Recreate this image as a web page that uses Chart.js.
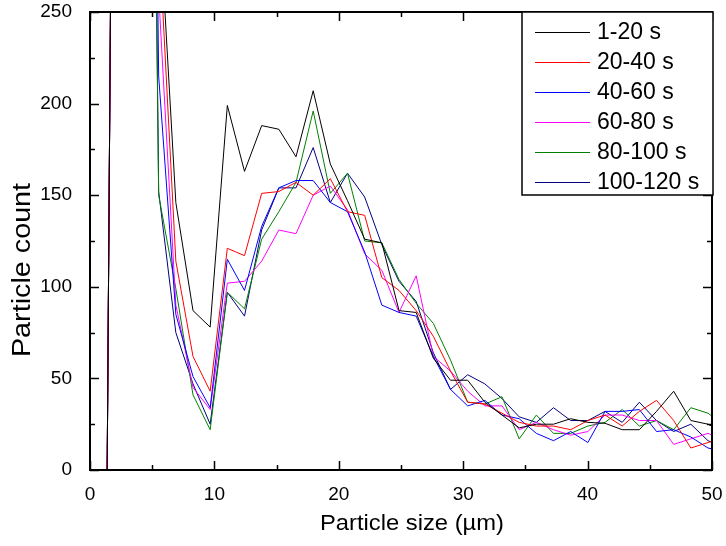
<!DOCTYPE html>
<html>
<head>
<meta charset="utf-8">
<title>Particle count</title>
<script src="https://cdn.jsdelivr.net/npm/chart.js@4.4.1/dist/chart.umd.min.js"></script>
<style>
    body {
        margin: 0;
        background: white;
    }
    #chart {
        display: block;
    }
</style>
</head>
<body>
<canvas id="chart" width="726" height="546"></canvas>
<script>
const sizes = [1.38, 2.76, 4.14, 5.52, 6.9, 8.28, 9.66, 11.04, 12.42, 13.8, 15.18, 16.56, 17.94, 19.32, 20.7, 22.08, 23.46, 24.84, 26.22, 27.6, 28.98, 30.36, 31.74, 33.12, 34.5, 35.88, 37.26, 38.64, 40.02, 41.4, 42.78, 44.16, 45.54, 46.92, 48.3, 49.68, 51.06];

const labels = ['1-20 s', '20-40 s', '40-60 s', '60-80 s', '80-100 s', '100-120 s'];
const colors = ['#000000', '#ff0000', '#0000ff', '#ff00ff', '#008000', '#000080'];

const s1_20 = [0, 1300, 1000, 310, 146, 87, 78, 199, 163, 188, 186, 171, 207, 167, 147, 126, 124, 87, 86, 61, 49, 49, 37, 30, 23, 25, 25, 28, 26, 25.5, 22, 22, 32, 43, 27, 25, 20];
const s20_40 = [0, 1300, 1000, 294, 114, 62, 43, 121, 117, 151, 152, 157, 150, 159, 141, 139, 105, 98, 87, 73, 54, 37, 36, 31, 26, 24, 24, 22, 27, 30, 24, 32, 38, 27, 12, 15, 18];
const s40_60 = [0, 1300, 1000, 215, 85, 51, 34, 115, 98, 133, 154, 158, 158, 146, 141, 119, 90, 86, 84, 62, 44, 35, 38, 30, 28, 20, 16, 21, 15, 32, 32, 33, 21, 22, 18, 12, 10];
const s60_80 = [0, 1300, 1000, 260, 90, 45, 33, 102, 103, 114, 131, 129, 150, 155, 142, 118, 109, 86, 106, 62, 54, 43, 35, 35, 22, 26, 22, 19, 21, 30, 30, 27, 27, 14, 17, 20, 16];
const s80_100 = [0, 1300, 1000, 150, 99, 41, 22, 97, 88, 126, 141, 157, 196, 151, 162, 125, 124, 104, 91, 80, 60, 37, 36, 40, 17, 30, 20, 20, 24, 26, 33, 24, 27, 22, 34, 31, 24];
const s100_120 = [0, 1300, 1000, 152, 75, 47, 25, 97, 84, 131, 154, 154, 176, 146, 162, 149, 123, 103, 92, 64, 44, 52, 47, 39, 29, 26, 34, 27, 27, 32, 26, 37, 27, 21, 25, 16, 12];

const xTicks = [0, 10, 20, 30, 40, 50];
const yTicks = [0, 50, 100, 150, 200, 250];

const allSeries = [s1_20, s20_40, s40_60, s60_80, s80_100, s100_120];

function toPoints(values) {
    return values.map((v, i) => ({ x: sizes[i], y: v }));
}

const datasets = allSeries.map((values, i) => ({
    label: labels[i],
    data: toPoints(values),
    borderColor: colors[i],
    backgroundColor: colors[i],
    borderWidth: 1,
    pointRadius: 0,
    tension: 0
}));

const fontName = '"Liberation Sans", Arial, sans-serif';

// text stretched along its baseline, like the original export
function stretchedText(ctx, text, x, y, angle, sx) {
    ctx.save();
    ctx.translate(x, y);
    ctx.rotate(angle);
    ctx.scale(sx, 1);
    ctx.fillText(text, 0, 0);
    ctx.restore();
}

// frame, inward ticks, axis titles and boxed legend
const framePlugin = {
    id: 'frame',
    afterDraw(chart) {
        const ctx = chart.ctx;
        const area = chart.chartArea;
        const xs = chart.scales.x;
        const ys = chart.scales.y;
        ctx.save();
        ctx.strokeStyle = '#000';
        ctx.lineWidth = 1.5;
        for (let v = 0; v <= 50; v += 5) {
            const px = Math.round(xs.getPixelForValue(v)) + 0.5;
            const len = v % 10 === 0 ? 9 : 5;
            ctx.beginPath();
            ctx.moveTo(px, area.bottom);
            ctx.lineTo(px, area.bottom - len);
            ctx.moveTo(px, area.top);
            ctx.lineTo(px, area.top + len);
            ctx.stroke();
        }
        for (let v = 0; v <= 250; v += 25) {
            const py = Math.round(ys.getPixelForValue(v)) + 0.5;
            const len = v % 50 === 0 ? 9 : 5;
            ctx.beginPath();
            ctx.moveTo(area.left, py);
            ctx.lineTo(area.left + len, py);
            ctx.moveTo(area.right, py);
            ctx.lineTo(area.right - len, py);
            ctx.stroke();
        }
        ctx.lineWidth = 2;
        ctx.strokeRect(area.left, area.top, area.right - area.left, area.bottom - area.top);

        ctx.fillStyle = '#000';
        ctx.textAlign = 'center';
        ctx.textBaseline = 'middle';
        ctx.font = '22px ' + fontName;
        stretchedText(ctx, 'Particle size (\u00b5m)', (area.left + area.right) / 2 + 11, 524, 0, 1.08);
        ctx.font = '25px ' + fontName;
        stretchedText(ctx, 'Particle count', 23, 270, -Math.PI / 2, 1.15);

        const box = { left: 522, top: 12, right: 713, bottom: 195 };
        ctx.fillStyle = '#fff';
        ctx.fillRect(box.left, box.top, box.right - box.left, box.bottom - box.top);
        ctx.lineWidth = 1.5;
        ctx.strokeRect(box.left, box.top, box.right - box.left, box.bottom - box.top);
        ctx.textAlign = 'left';
        ctx.font = '23px ' + fontName;
        labels.forEach((label, i) => {
            const y = 32 + i * 30;
            ctx.strokeStyle = colors[i];
            ctx.lineWidth = 1;
            ctx.beginPath();
            ctx.moveTo(535, y + 0.5);
            ctx.lineTo(590, y + 0.5);
            ctx.stroke();
            ctx.fillStyle = '#000';
            ctx.fillText(label, 597, y + 1);
        });
        ctx.restore();
    }
};

new Chart(document.getElementById('chart'), {
    type: 'line',
    data: { datasets: datasets },
    options: {
        responsive: false,
        animation: false,
        devicePixelRatio: 1,
        layout: { padding: { top: 12, right: 14, left: 0, bottom: 0 } },
        plugins: {
            legend: { display: false },
            tooltip: { enabled: false }
        },
        scales: {
            x: {
                type: 'linear',
                min: 0,
                max: 50,
                afterFit: scale => {
                    scale.height = 76;
                    scale.paddingLeft = 0;
                    scale.paddingRight = 0;
                },
                afterBuildTicks: scale => { scale.ticks = xTicks.map(v => ({ value: v })); },
                grid: { display: false },
                border: { display: false },
                ticks: { color: '#000', padding: 5, maxRotation: 0, font: { size: 19, family: fontName } }
            },
            y: {
                type: 'linear',
                min: 0,
                max: 250,
                afterFit: scale => {
                    scale.width = 90;
                    scale.paddingTop = 0;
                    scale.paddingBottom = 0;
                },
                afterBuildTicks: scale => { scale.ticks = yTicks.map(v => ({ value: v })); },
                grid: { display: false },
                border: { display: false },
                ticks: { color: '#000', padding: 10, font: { size: 19, family: fontName } }
            }
        }
    },
    plugins: [framePlugin]
});
</script>
</body>
</html>
